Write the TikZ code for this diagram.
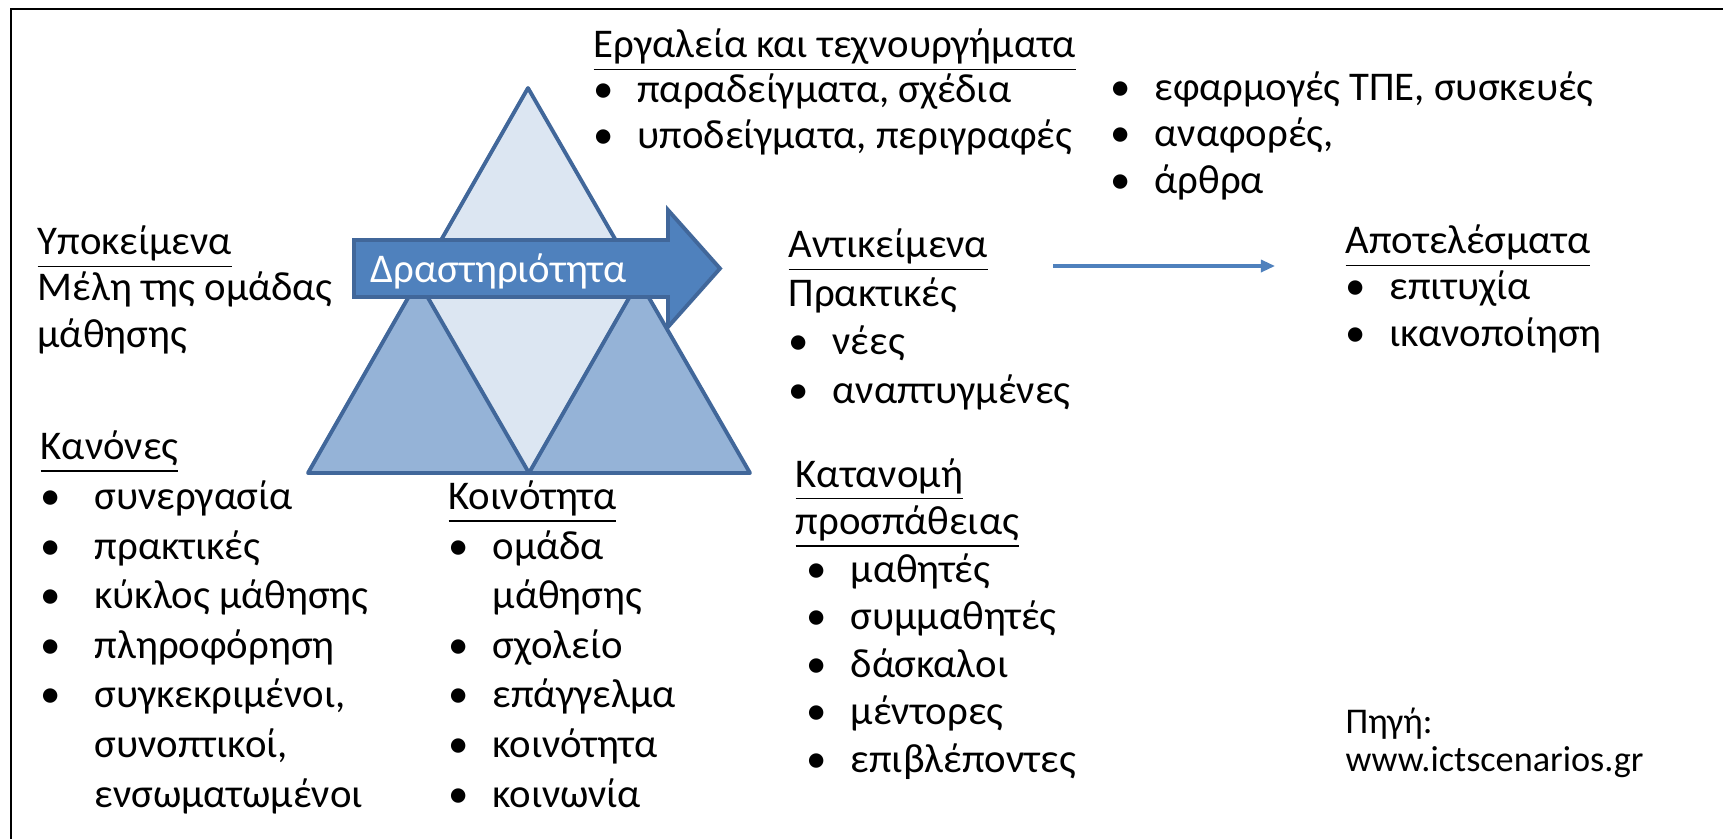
\documentclass[tikz,border=0pt]{standalone}
\usepackage{fontspec}
\setmainfont{Carlito}
\usetikzlibrary{arrows.meta,positioning}

\definecolor{edgeblue}{HTML}{41679A}
\definecolor{paleblue}{HTML}{DCE6F2}
\definecolor{midblue}{HTML}{95B3D7}
\definecolor{actblue}{HTML}{4F81BD}

\newcommand{\itm}[2][0.44cm]{\makebox[#1][l]{•}#2}
\newcommand{\cont}[2][0.44cm]{\hspace*{#1}#2}

\begin{document}
\begin{tikzpicture}[
  x=0.01cm, y=-0.01cm,
  txt/.style={font=\fontsize{11.6}{#1}\selectfont, align=left, inner sep=0pt, anchor=base west},
  txt/.default=13.1pt,
  tri/.style={draw=edgeblue, line width=1.1pt, line join=round},
  flow/.style={-{Triangle[length=1.4mm, width=1.2mm]}, actblue, line width=0.9pt}
]
\useasboundingbox (0,0) rectangle (1723,839);
\draw[line width=0.85pt] (11,839) -- (11,9) -- (1723,9);

% Triangle
\coordinate (apex) at (528,88);
\coordinate (bl) at (308,473);
\coordinate (br) at (750,473);
\coordinate (ml) at (418,280.5);
\coordinate (mr) at (639,280.5);
\coordinate (bm) at (529,473);
\fill[paleblue] (apex) -- (bl) -- (br) -- cycle;
\fill[midblue] (ml) -- (bl) -- (bm) -- cycle;
\fill[midblue] (mr) -- (bm) -- (br) -- cycle;
\draw[tri] (apex) -- (bl) -- (br) -- cycle;
\draw[tri] (ml) -- (mr) -- (bm) -- cycle;

% Activity arrow
\filldraw[fill=actblue, draw=edgeblue, line width=1.1pt, line join=miter]
  (354,240) -- (668,240) -- (668,210) -- (720,268.5) -- (668,327) -- (668,297) -- (354,297) -- cycle;
\node[txt, text=white] (act) at (370,282) {Δραστηριότητα};

% Nodes (placed by the baseline of their last line)
\node[txt=12.8pt] (tools) at (593,148) {\underline{Εργαλεία και τεχνουργήματα}\\\itm{παραδείγματα, σχέδια}\\\itm{υποδείγματα, περιγραφές}};
\node[txt=13.1pt] (media) at (1110,193) {\itm{εφαρμογές ΤΠΕ, συσκευές}\\\itm{αναφορές,}\\\itm{άρθρα}};
\node[txt=13.1pt] (subj) at (37,347) {\underline{Υποκείμενα}\\Μέλη της ομάδας\\μάθησης};
\node[txt=14.1pt] (rules) at (40,807) {\underline{Κανόνες}\\\itm[0.54cm]{συνεργασία}\\\itm[0.54cm]{πρακτικές}\\\itm[0.54cm]{κύκλος μάθησης}\\\itm[0.54cm]{πληροφόρηση}\\\itm[0.54cm]{συγκεκριμένοι,}\\\cont[0.54cm]{συνοπτικοί,}\\\cont[0.54cm]{ενσωματωμένοι}};
\node[txt=14.1pt] (comm) at (448,807) {\underline{Κοινότητα}\\\itm{ομάδα}\\\cont{μάθησης}\\\itm{σχολείο}\\\itm{επάγγελμα}\\\itm{κοινότητα}\\\itm{κοινωνία}};
\node[txt=13.75pt] (obj) at (788,403) {\underline{Αντικείμενα}\\Πρακτικές\\\itm{νέες}\\\itm{αναπτυγμένες}};
\node[txt=13.5pt] (labour) at (795,772) {\underline{Κατανομή}\\\underline{προσπάθειας}\\\hspace*{1.1mm}\itm{μαθητές}\\\hspace*{1.1mm}\itm{συμμαθητές}\\\hspace*{1.1mm}\itm{δάσκαλοι}\\\hspace*{1.1mm}\itm{μέντορες}\\\hspace*{1.1mm}\itm{επιβλέποντες}};
\node[txt=13.1pt] (out) at (1345,346) {\underline{Αποτελέσματα}\\\itm{επιτυχία}\\\itm{ικανοποίηση}};
\node[txt, font=\fontsize{10.3}{10.8pt}\selectfont] (src) at (1345,771) {Πηγή:\\www.ictscenarios.gr};

% Connections
\coordinate (flowA) at (1053,266);
\coordinate (flowB) at (1275,266);
\draw[flow] (flowA) -- (flowB);

\end{tikzpicture}
\end{document}
